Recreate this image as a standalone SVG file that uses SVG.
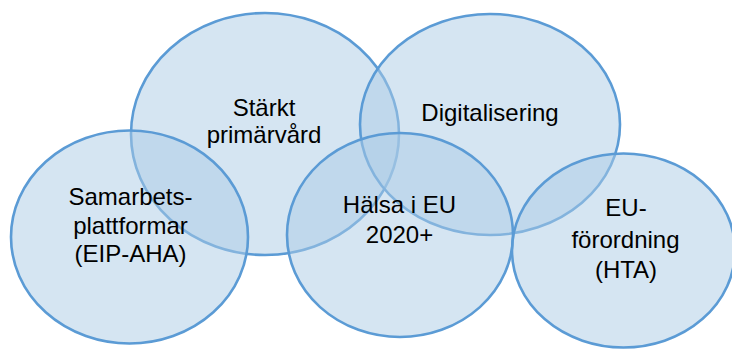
<svg xmlns="http://www.w3.org/2000/svg" width="732" height="349" viewBox="0 0 732 349">
<style>
.c{fill:#ABCBE5;fill-opacity:0.5;stroke:#5B9BD5;stroke-width:2.6}
.t{font-family:"Liberation Sans",Arial,sans-serif;font-size:24px;fill:#000;text-anchor:middle}
</style>
<rect width="732" height="349" fill="#fff"/>
<g id="node-primarvard">
<ellipse class="c" cx="265" cy="134" rx="134" ry="121"/>
<text class="t"><tspan x="264" y="116">Stärkt</tspan><tspan x="264" y="143">primärvård</tspan></text>
</g>
<g id="node-digitalisering">
<ellipse class="c" cx="490" cy="124.5" rx="130" ry="110.5"/>
<text class="t" x="490" y="120.5">Digitalisering</text>
</g>
<g id="node-samarbetsplattformar">
<ellipse class="c" cx="129.5" cy="237" rx="118.5" ry="106.5"/>
<text class="t"><tspan x="130.5" y="205">Samarbets-</tspan><tspan x="130.5" y="234">plattformar</tspan><tspan x="130.5" y="262">(EIP-AHA)</tspan></text>
</g>
<g id="node-halsa">
<ellipse class="c" cx="400" cy="235" rx="113" ry="102"/>
<text class="t"><tspan x="399.5" y="212.5">Hälsa i EU</tspan><tspan x="399.5" y="243">2020+</tspan></text>
</g>
<g id="node-euforordning">
<ellipse class="c" cx="623.5" cy="250.5" rx="111.5" ry="97"/>
<text class="t"><tspan x="626" y="215.5">EU-</tspan><tspan x="625.5" y="247.5">förordning</tspan><tspan x="626" y="277.5">(HTA)</tspan></text>
</g>
<g id="connectors"></g>
</svg>
